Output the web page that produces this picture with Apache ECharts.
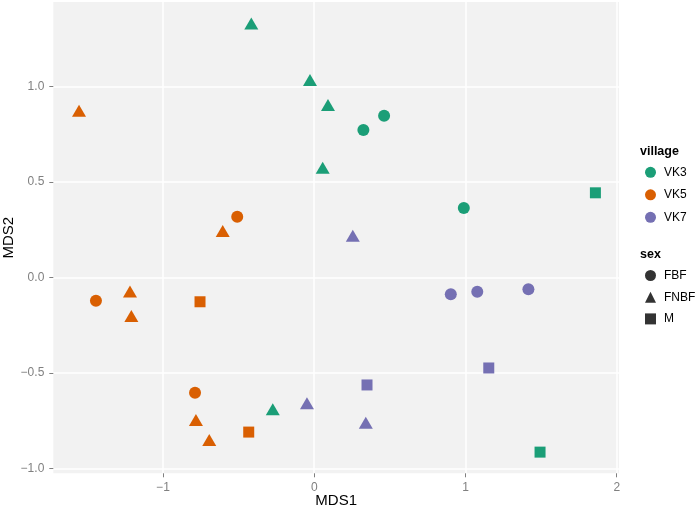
<!DOCTYPE html>
<html>
<head>
<meta charset="utf-8">
<script src="https://cdn.jsdelivr.net/npm/echarts@6/dist/echarts.min.js"></script>
<style>
html,body{margin:0;padding:0;background:#fff;}
#chart{width:700px;height:511px;}
</style>
</head>
<body>
<div id="chart"></div>
<script>
// ---- data ----
const villages = ['VK3', 'VK5', 'VK7'];
const sexes = ['FBF', 'FNBF', 'M'];
const xTicks = [-1, 0, 1, 2];
const yTicks = [-1.0, -0.5, 0.0, 0.5, 1.0];

const vk3X   = [-0.416, -0.028, 0.091, 0.056, -0.274, 0.325, 0.462, 0.989, 1.859, 1.493];
const vk3Y   = [1.321, 1.025, 0.894, 0.565, -0.701, 0.773, 0.848, 0.364, 0.444, -0.915];
const vk3Sex = ['FNBF','FNBF','FNBF','FNBF','FNBF','FBF','FBF','FBF','M','M'];

const vk5X   = [-1.555, -0.509, -0.605, -1.443, -1.218, -1.209, -0.755, -0.788, -0.782, -0.694, -0.433];
const vk5Y   = [0.863, 0.319, 0.234, -0.122, -0.084, -0.212, -0.127, -0.604, -0.757, -0.862, -0.810];
const vk5Sex = ['FNBF','FBF','FNBF','FBF','FNBF','FNBF','M','FBF','FNBF','FNBF','M'];

const vk7X   = [0.255, -0.048, 0.903, 1.078, 1.416, 1.154, 0.349, 0.341];
const vk7Y   = [0.209, -0.669, -0.088, -0.074, -0.062, -0.474, -0.563, -0.771];
const vk7Sex = ['FNBF','FNBF','FBF','FBF','FBF','M','M','FNBF'];

const villageColors = ['#1B9E77', '#D95F02', '#7570B3'];

// ---- build ----
const shapeOf = {FBF: 'circle', FNBF: 'triangle', M: 'rect'};
const sizeOf  = {FBF: 12, FNBF: [14, 12], M: 11};
const offsetOf = {FBF: [0, 0], FNBF: [0, -2], M: [0, 0]};

function buildData(xs, ys, ss) {
  return xs.map((x, i) => ({
    value: [x, ys[i]],
    symbol: shapeOf[ss[i]],
    symbolSize: sizeOf[ss[i]],
    symbolOffset: offsetOf[ss[i]]
  }));
}
const allData = [
  buildData(vk3X, vk3Y, vk3Sex),
  buildData(vk5X, vk5Y, vk5Sex),
  buildData(vk7X, vk7Y, vk7Sex)
];

const font = 'Liberation Sans, Arial, Helvetica, sans-serif';
const minus = s => s.replace('-', '\u2212');

const series = villages.map((v, i) => ({
  name: v,
  type: 'scatter',
  data: allData[i],
  itemStyle: {color: villageColors[i], opacity: 1},
  emphasis: {disabled: true}
}));
sexes.forEach(s => series.push({
  name: s, type: 'scatter', data: [], itemStyle: {color: '#000'}
}));

const chart = echarts.init(document.getElementById('chart'), null, {renderer: 'canvas'});
chart.setOption({
  animation: false,
  backgroundColor: '#fff',
  textStyle: {fontFamily: font},
  grid: {left: 53.3, right: 81, top: 2, bottom: 37.7, show: true,
         containLabel: false, outerBoundsMode: 'none',
         backgroundColor: '#F2F2F2', borderWidth: 0},
  title: [
    {text: 'village', left: 640, top: 145, padding: 0,
     textStyle: {fontSize: 12.5, fontWeight: 'bold', color: '#000', fontFamily: font}},
    {text: 'sex', left: 640, top: 248, padding: 0,
     textStyle: {fontSize: 12.5, fontWeight: 'bold', color: '#000', fontFamily: font}}
  ],
  legend: [
    {data: villages.map(v => ({name: v, icon: 'circle'})),
     orient: 'vertical', left: 645, top: 166.3, padding: 0,
     itemWidth: 11, itemHeight: 11, itemGap: 10.5, selectedMode: false,
     textStyle: {fontSize: 12, color: '#000', lineHeight: 12, padding: [0, 0, 0, 3], fontFamily: font}},
    {data: [{name: 'FBF', icon: 'circle'}, {name: 'FNBF', icon: 'triangle'}, {name: 'M', icon: 'rect'}],
     orient: 'vertical', left: 645, top: 269.5, padding: 0,
     itemWidth: 11, itemHeight: 11, itemGap: 9.7, selectedMode: false,
     textStyle: {fontSize: 12, color: '#000', lineHeight: 12, padding: [0, 0, 0, 3], fontFamily: font}}
  ],
  xAxis: {
    type: 'value', min: -1.725, max: 2.015,
    name: 'MDS1', nameLocation: 'middle', nameGap: 20, nameMoveOverlap: false,
    nameTextStyle: {fontSize: 15, color: '#000', fontFamily: font},
    axisLine: {show: false, onZero: false},
    axisTick: {show: true, length: 4, lineStyle: {color: '#808080'}, customValues: xTicks},
    axisLabel: {margin: 8, fontSize: 12, color: '#808080', customValues: xTicks,
                formatter: v => minus(String(v))},
    splitLine: {show: true, lineStyle: {color: '#fff', width: 1.5}}
  },
  yAxis: {
    type: 'value', min: -1.026, max: 1.444,
    name: 'MDS2', nameLocation: 'middle', nameGap: 37, nameMoveOverlap: false,
    nameTextStyle: {fontSize: 15, color: '#000', fontFamily: font},
    axisLine: {show: false, onZero: false},
    axisTick: {show: true, length: 4, lineStyle: {color: '#808080'}, customValues: yTicks},
    axisLabel: {margin: 9, fontSize: 12, color: '#808080', customValues: yTicks,
                formatter: v => minus(v.toFixed(1))},
    splitLine: {show: true, lineStyle: {color: '#fff', width: 1.5}}
  },
  series: series
});
</script>
</body>
</html>
